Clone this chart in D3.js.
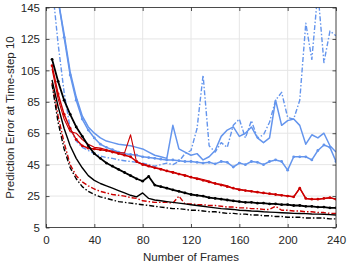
<!DOCTYPE html>
<html><head><meta charset="utf-8">
<script src="https://cdn.jsdelivr.net/npm/d3@7"></script>
<style>
html,body{margin:0;padding:0;background:#fff;}
svg{display:block;}
text{font-family:"Liberation Sans",Arial,Helvetica,sans-serif;fill:#262626;}
</style>
</head><body>
<svg id="chart" width="347" height="263"></svg>
<script>
// ---- data ----
const frames = [5,10,15,20,25,30,35,40,45,50,55,60,65,70,75,80,85,90,95,100,105,110,115,120,125,130,135,140,145,150,155,160,165,170,175,180,185,190,195,200,205,210,215,220,225,230,235,240];
const xTicks = [0,40,80,120,160,200,240];
const yTicks = [5,25,45,65,85,105,125,145];
const xTitle = "Number of Frames";
const yTitle = "Prediction Error at Time-step 10";

const blueDashDot = [160,122,91,68,60,56,54,52,50.5,49.5, 49,48,47.5,47,46.5,46,45,44,45,46, 45,47,52,54,68,102,57,53,59,56, 70,74,62,73,62,64,72,86,91,75, 74,86,135,112,155,110,130,127];
const bluePlain   = [175,150,128,104,88,76,69,65,62,60, 59,58,57.5,57,56,55,53,51,50,49, 70,55,53,51,52,48,50,54,63,67, 69,63,65,69,62,59,62,86,70,73, 74,70,58,64,62,65,57,53];
const blueMarker  = [175,150,126,102,86,74,67,62,58,56, 54.5,53,52,51.5,51,50,49.5,49,48.5,48, 48,47.5,47,47,46.5,46,46.5,45.5,47,46.5, 43.5,46,45,47,46.5,45,47,48,47,41.5, 50,50,50,48,54,57.5,56,47];

const redDashDot  = [97,76,59,45,38,34,31.5,29.5,28,27, 26,25.5,25,24,23.5,22,21.5,21,21,21, 20.5,25,20,20,19.5,19.5,19,19,18.5,18, 18,17.5,17.5,17,17,16.5,16.5,18.5,16,16, 15.5,15.5,15,15,14.5,14.5,14,14];
const redPlain    = [106,87,74,66,65,61,58,56,55.5,54.5, 53.5,52.5,52.5,64,46.5,45.5,44.5,43,42.5,41, 40.5,39,38.5,37,36.5,35.5,34.5,33,32.5,31.5, 30,29.5,28.5,28,27.5,27,26.5,26,25.5,25, 24.5,30,23.5,23,23,23.5,24,23];
const redMarker   = [108,90,77,68,61,57,55.5,55,54.5,54, 53,52,51,50,47,45,44,43,42,41, 40,39,38,37,36,35,34,33,32,31, 30,29,28.5,28,27.5,27,26.5,26,25.5,25, 24.5,30,23.5,23,23,23.5,24,23];

const blackDashDot = [96,72,55,43,36,31,28,26,24.5,23.5, 22.5,21.5,21,20.5,20,19.5,19,18.5,18,17.5, 17,17,16.5,16,16,15.5,15,15,14.5,14, 14,13.5,13.5,13,13,12.5,12.5,12,12,11.5, 11.5,11.5,11,11,11,11,10.5,10.5];
const blackSolid   = [99,82,68,57,49,43,38,35,33,31.5, 30,28.5,27,25.5,24.5,27,23.5,22.5,22,21.5, 21,20.5,20,19.5,19,18.5,18,17.5,17,16.8, 16.5,16,15.8,15.5,15.3,15,14.8,14.6,14.4,14.2, 14,13.9,13.8,13.6,13.5,13.4,13.2,13];
const blackMarker  = [112,98,86,77,69,63,57,52,49,46, 44,42,40,38,36,34.5,37.5,32,31,30, 29,28,27,26,25.5,25,24,23.5,23,22.5, 22,21.5,21,21,20.5,20.5,20,20,19.5,19.5, 19,19,18.5,18.5,18,18,17.5,17.5];

// ---- styles ----
const BLUE = "#6495ed", RED = "#cc0000", BLACK = "#000000";
const DD = "5,2,1.5,2";
const series = [
  {v: blueDashDot, c: BLUE, w: 1.4, dash: DD, m: false},
  {v: bluePlain,   c: BLUE, w: 1.5, dash: null, m: false},
  {v: blueMarker,  c: BLUE, w: 1.5, dash: null, m: true},
  {v: redDashDot,  c: RED,  w: 1.4, dash: DD, m: false},
  {v: redPlain,    c: RED,  w: 1.1, dash: null, m: false},
  {v: redMarker,   c: RED,  w: 1.5, dash: null, m: true},
  {v: blackDashDot,c: BLACK,w: 1.4, dash: DD, m: false},
  {v: blackSolid,  c: BLACK,w: 1.4, dash: null, m: false},
  {v: blackMarker, c: BLACK,w: 1.8, dash: null, m: true}
];

const L = 46, R = 336, T = 7.5, B = 227.5;
const svg = d3.select("#chart");
const x = d3.scaleLinear().domain([0,240]).range([L,R]);
const y = d3.scaleLinear().domain([5,145]).range([B,T]);

svg.append("defs").append("clipPath").attr("id","clip")
  .append("rect").attr("x",L).attr("y",T).attr("width",R-L).attr("height",B-T);

// grid
const grid = svg.append("g").attr("stroke","#e6e6e6").attr("stroke-width",1);
grid.selectAll(".gx").data(xTicks).join("line")
  .attr("x1",d=>x(d)).attr("x2",d=>x(d)).attr("y1",T).attr("y2",B);
grid.selectAll(".gy").data(yTicks).join("line")
  .attr("y1",d=>y(d)).attr("y2",d=>y(d)).attr("x1",L).attr("x2",R);

// lines
const plot = svg.append("g").attr("clip-path","url(#clip)");
const line = d3.line().x((d,i)=>x(frames[i])).y(d=>y(d));
series.forEach(s=>{
  plot.append("path").datum(s.v)
    .attr("fill","none").attr("stroke",s.c).attr("stroke-width",s.w)
    .attr("stroke-linejoin","round")
    .attr("stroke-dasharray",s.dash)
    .attr("d",line);
  if (s.m) {
    plot.append("g").selectAll("circle").data(s.v).join("circle")
      .attr("cx",(d,i)=>x(frames[i])).attr("cy",d=>y(d))
      .attr("r",1.4).attr("fill",s.c);
  }
});

// axes
const tickLen = 3.5;
const ax = d3.axisBottom(x).tickValues(xTicks).tickSizeInner(-tickLen).tickSizeOuter(0).tickPadding(8);
const ay = d3.axisLeft(y).tickValues(yTicks).tickSizeInner(-tickLen).tickSizeOuter(0).tickPadding(6);
const axT = d3.axisTop(x).tickValues(xTicks).tickSizeInner(-tickLen).tickSizeOuter(0).tickFormat("");
const ayR = d3.axisRight(y).tickValues(yTicks).tickSizeInner(-tickLen).tickSizeOuter(0).tickFormat("");

function style(g){
  g.select(".domain").remove();
  g.selectAll(".tick line").attr("stroke","#262626").attr("stroke-width",0.8);
  g.selectAll(".tick text").attr("font-size","11.5px").attr("fill","#262626")
    .attr("font-family","Liberation Sans, Arial, sans-serif");
}
svg.append("g").attr("transform",`translate(0,${B})`).call(ax).call(style);
svg.append("g").attr("transform",`translate(${L},0)`).call(ay).call(style);
svg.append("g").attr("transform",`translate(0,${T})`).call(axT).call(style);
svg.append("g").attr("transform",`translate(${R},0)`).call(ayR).call(style);

// box
svg.append("rect").attr("x",L).attr("y",T).attr("width",R-L).attr("height",B-T)
  .attr("fill","none").attr("stroke","#262626").attr("stroke-width",0.8);

// titles
svg.append("text").attr("x",(L+R)/2).attr("y",260.5).attr("text-anchor","middle")
  .attr("font-size","11.5px").text(xTitle);
svg.append("text").attr("transform",`translate(13.5,${(T+B)/2}) rotate(-90)`)
  .attr("text-anchor","middle").attr("font-size","11.5px").text(yTitle);
</script>
</body></html>
